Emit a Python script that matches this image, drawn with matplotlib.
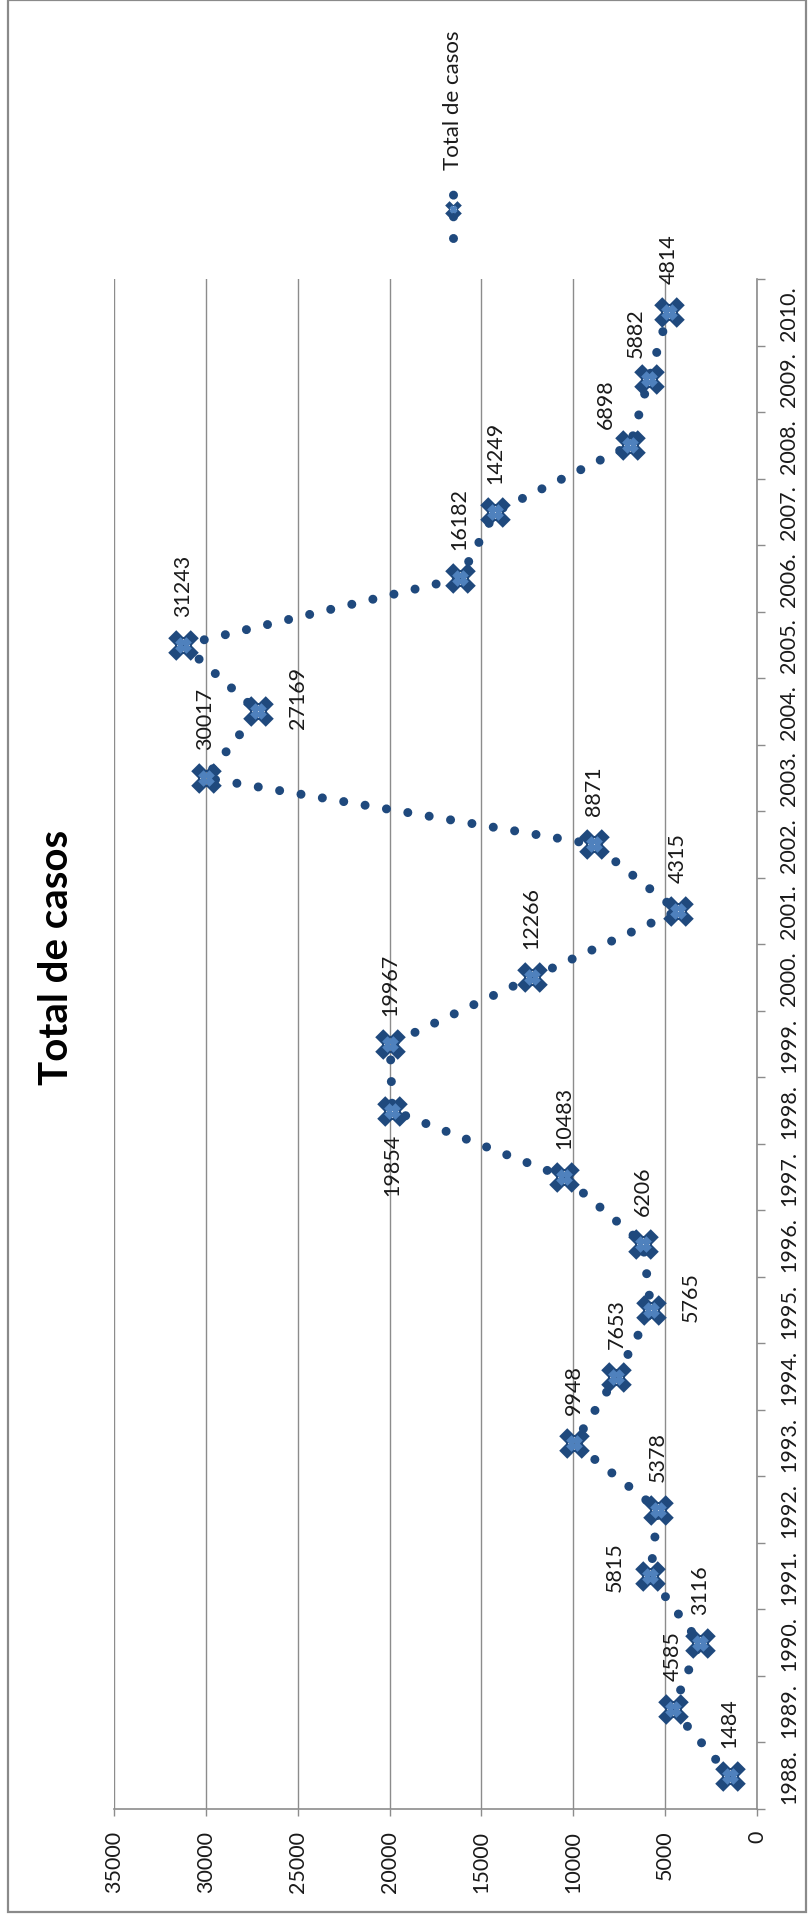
import matplotlib
matplotlib.use('Agg')
import matplotlib.pyplot as plt
from matplotlib.path import Path
from matplotlib.lines import Line2D
from matplotlib.patches import Rectangle

# data
years = ['1988.', '1989.', '1990.', '1991.', '1992.', '1993.', '1994.', '1995.',
         '1996.', '1997.', '1998.', '1999.', '2000.', '2001.', '2002.', '2003.',
         '2004.', '2005.', '2006.', '2007.', '2008.', '2009.', '2010.']
casos = [1484, 4585, 3116, 5815, 5378, 9948, 7653, 5765, 6206, 10483, 19854,
         19967, 12266, 4315, 8871, 30017, 27169, 31243, 16182, 14249, 6898,
         5882, 4814]
value_ticks = [0, 5000, 10000, 15000, 20000, 25000, 30000, 35000]
series_name = 'Total de casos'
title = 'Total de casos'

# where each data label sits (chart is drawn turned on its side)
label_side = ['r', 'r', 'r', 'a', 'r', 'r', 'r', 'b', 'r', 'r', 'l', 'r',
              'r', 'r', 'r', 'r', 'b', 'r', 'r', 'r', 'c1', 'c2', 'r']
side_style = {
    'r': ((0, 29), 'center', 'bottom'),
    'a': ((-25, 10), 'right', 'center'),
    'b': ((30, 14), 'left', 'center'),
    'l': ((0, -22), 'center', 'top'),
    'c1': ((-24, 17), 'center', 'bottom'),
    'c2': ((-13, 22), 'center', 'bottom'),
}

DARK = '#1F497D'
LIGHT = '#4F81BD'
GRID = '#8C8C8C'
TXT = '#1A1A1A'
W, H = 812, 1915

plt.rcParams['font.family'] = ['Lato', 'DejaVu Sans']


def cross_marker(off=0.9):
    """four diamonds on the diagonals, like the excel marker"""
    verts, codes = [], []
    for cx, cy in [(-off, -off), (off, -off), (-off, off), (off, off)]:
        verts += [(cx, cy - 1), (cx + 1, cy), (cx, cy + 1), (cx - 1, cy), (cx, cy - 1)]
        codes += [Path.MOVETO, Path.LINETO, Path.LINETO, Path.LINETO, Path.CLOSEPOLY]
    return Path(verts, codes)


MARK = cross_marker()
CENTER = cross_marker(0.55)

fig = plt.figure(figsize=(W / 100, H / 100), dpi=100)
ax = fig.add_axes([114 / W, (H - 1810) / H, (757 - 114) / W, (1810 - 280) / H])

idx = list(range(len(years)))
ax.plot(casos, idx, color=DARK, lw=6.5, linestyle=(0, (0.001, 2.4)),
        dash_capstyle='round', zorder=3)
ax.plot(casos, idx, linestyle='none', marker=MARK, markersize=22,
        color=DARK, markeredgewidth=0, zorder=4)
ax.plot(casos, idx, linestyle='none', marker=CENTER, markersize=12,
        color=LIGHT, markeredgewidth=0, zorder=5)

for i, v in enumerate(casos):
    off, ha, va = side_style[label_side[i]]
    ax.annotate(str(v), xy=(v, i), xytext=off, textcoords='offset pixels',
                rotation=90, ha=ha, va=va, fontsize=15.5, color=TXT, zorder=6)

ax.set_xlim(35000, 0)
ax.set_ylim(-0.5, len(years) - 0.5)
ax.set_xticks(value_ticks)
ax.set_xticklabels([str(t) for t in value_ticks], rotation=90, fontsize=15.5, color=TXT)
ax.set_yticks(idx)
ax.set_yticklabels(years, rotation=90, fontsize=15.5, color=TXT, va='center')
ax.set_yticks([i - 0.5 for i in range(len(years) + 1)], minor=True)

ax.tick_params(axis='x', which='major', direction='out', length=5, width=1,
               color=GRID, pad=10)
ax.tick_params(axis='y', which='both', left=False, right=True,
               labelleft=False, labelright=True)
ax.tick_params(axis='y', which='major', length=0, pad=16)
ax.tick_params(axis='y', which='minor', direction='out', length=6, width=1, color=GRID)

ax.grid(axis='x', color=GRID, lw=1.0)
ax.set_axisbelow(True)
for s in ['top', 'left']:
    ax.spines[s].set_visible(False)
for s in ['bottom', 'right']:
    ax.spines[s].set_color(GRID)
    ax.spines[s].set_linewidth(1.2)

# title, sideways
fig.text(57 / W, 1 - 957 / H, title, rotation=90, ha='center', va='center',
         fontsize=29, fontweight='bold', color='black')

# hand made legend, sideways too
lx = 453 / W
fig.add_artist(Line2D([lx, lx], [1 - 239 / H, 1 - 182 / H], transform=fig.transFigure,
                      color=DARK, lw=6.5, linestyle=(0, (0.001, 2.4)),
                      dash_capstyle='round'))
fig.add_artist(Line2D([lx], [1 - 210 / H], transform=fig.transFigure, marker=MARK,
                      markersize=12, color=DARK, markeredgewidth=0, linestyle='none'))
fig.add_artist(Line2D([lx], [1 - 210 / H], transform=fig.transFigure, marker=CENTER,
                      markersize=6, color=LIGHT, markeredgewidth=0, linestyle='none'))
fig.text(lx, 1 - 170 / H, series_name, rotation=90, ha='center', va='bottom',
         fontsize=16, color=TXT)

# chart area border
fig.add_artist(Rectangle((8 / W, 2 / H), 798 / W, 1912 / H, transform=fig.transFigure,
                         fill=False, ec='#8A8A8A', lw=1.6))

fig.savefig('out.png', dpi=100)
